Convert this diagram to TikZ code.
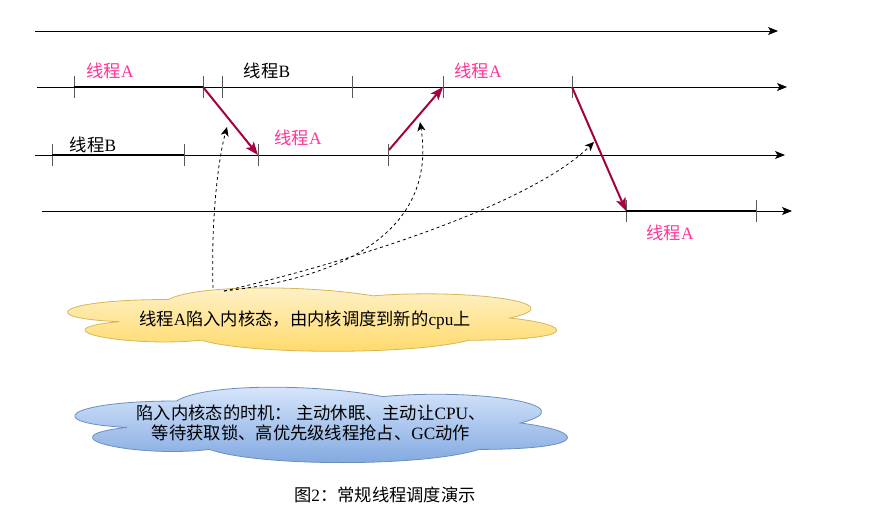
\documentclass[tikz,border=0pt]{standalone}
\usepackage{fontspec}
\setmainfont{Liberation Serif}
\newfontfamily\cjk{Noto Sans CJK SC}
\usepackage{xcolor}
\usepackage{tikz}
\usetikzlibrary{positioning, arrows.meta, calc}

\definecolor{thrpink}{HTML}{FF3399}
\definecolor{switchred}{HTML}{A50040}
\definecolor{yeltop}{HTML}{FFF2CC}
\definecolor{yelbot}{HTML}{FFD966}
\definecolor{yelline}{HTML}{D6B656}
\definecolor{blutop}{HTML}{DAE8FC}
\definecolor{blubot}{HTML}{7EA6E0}
\definecolor{bluline}{HTML}{6C8EBF}

\tikzset{
  timeline/.style={line width=0.9pt, -{Stealth[length=10pt,width=8pt,inset=2.5pt]}},
  tickmark/.style={line width=1pt, black!65},
  busy/.style={line width=1.5pt},
  switch/.style={line width=2pt, switchred, -{Stealth[length=13pt,width=10pt,inset=3pt]}},
  trap/.style={dashed, line width=0.8pt, -{Stealth[length=9pt,width=8pt,inset=2.5pt]}},
  lbl/.style={font=\fontsize{17.3}{20}\selectfont, inner sep=0pt},
  lblA/.style={lbl, text=thrpink},
  lblB/.style={lbl, text=black},
}

% cloud outline in a unit box (y downwards): #1 x0, #2 y0, #3 width, #4 height, #5 style
\newcommand{\cloudat}[5]{%
  \begin{scope}[shift={(#1,#2)}, x=#3pt, y=-#4pt]
    \path[#5] (0.25,0.25) .. controls (0.05,0.25) and (0,0.5) .. (0.16,0.55)
      .. controls (0,0.66) and (0.18,0.9) .. (0.31,0.8)
      .. controls (0.4,1) and (0.7,1) .. (0.8,0.8)
      .. controls (1,0.8) and (1,0.6) .. (0.875,0.5)
      .. controls (1,0.3) and (0.8,0.1) .. (0.625,0.2)
      .. controls (0.5,0.05) and (0.3,0.05) .. (0.25,0.25) -- cycle;
  \end{scope}}

\begin{document}
\begin{tikzpicture}[x=1pt, y=-1pt]
  \useasboundingbox (0,0) rectangle (878,529);

  % four cpu time lines
  \coordinate (s0) at (35,31);   \coordinate (e0) at (778,31);
  \coordinate (s1) at (37,87);   \coordinate (e1) at (787,87);
  \coordinate (s2) at (35,155);  \coordinate (e2) at (785,155);
  \coordinate (s3) at (42,211);  \coordinate (e3) at (792,211);
  \foreach \i in {0,1,2,3}
    \draw[timeline] (s\i) -- (e\i);

  % tick marks
  \foreach \x/\n in {74/a, 203/b, 222/c, 352/d, 443/e, 572/f}
    \coordinate (t1\n) at (\x,87);
  \foreach \x/\n in {52/a, 184/b, 258/c, 388/d}
    \coordinate (t2\n) at (\x,155);
  \foreach \x/\n in {626/a, 756/b}
    \coordinate (t3\n) at (\x,211);
  \foreach \t in {t1a,t1b,t1c,t1d,t1e,t1f,t2a,t2b,t2c,t2d,t3a,t3b}
    \draw[tickmark] ($(\t)+(0,-11)$) -- ($(\t)+(0,11)$);

  % running slices
  \draw[busy] (t1a) -- (t1b);
  \draw[busy] (t2a) -- (t2b);
  \draw[busy] (t3a) -- (t3b);

  % thread labels
  \node[lblA] (la1) at (110,71) {{\cjk 线程}A};
  \node[lblB] (lb1) at (267,71) {{\cjk 线程}B};
  \node[lblA] (la2) at (478,71) {{\cjk 线程}A};
  \node[lblB] (lb2) at (93,145) {{\cjk 线程}B};
  \node[lblA] (la3) at (298,138) {{\cjk 线程}A};
  \node[lblA] (la4) at (670,233) {{\cjk 线程}A};

  % thread A moving between cpus
  \coordinate (t2up) at (389,150);
  \draw[switch] (t1b) -- (t2c);
  \draw[switch] (t2up) -- (t1e);
  \draw[switch] (t1f) -- (t3a);

  % clouds
  \cloudat{32}{281}{546}{74}{draw=yelline, line width=0.8pt, top color=yeltop, bottom color=yelbot}
  \cloudat{39}{379}{550}{88}{draw=bluline, line width=0.8pt, top color=blutop, bottom color=blubot}
  \node[lbl] (trapnote) at (305,320) {{\cjk 线程}A{\cjk 陷入内核态，由内核调度到新的}cpu{\cjk 上}};
  \node[lbl, align=center] (whennote) at (311,423)
    {{\cjk 陷入内核态的时机： 主动休眠、主动让}CPU{\cjk 、}\\[0pt]
     {\cjk 等待获取锁、高优先级线程抢占、}GC{\cjk 动作}};

  % dashed hints from the cloud
  \coordinate (c1) at (213,288);
  \coordinate (c2) at (224,291);
  \coordinate (h1) at (227,127);
  \coordinate (h2) at (420,122);
  \coordinate (h3) at (594,142);
  \draw[trap] (c1) .. controls (211,220) and (218,160) .. (h1);
  \draw[trap] (c2) .. controls (370,275) and (435,215) .. (h2);
  \draw[trap] (c2) .. controls (350,262) and (530,205) .. (h3);

  % caption
  \node[lbl] (caption) at (385,495) {{\cjk 图}2{\cjk ：常规线程调度演示}};
\end{tikzpicture}
\end{document}
